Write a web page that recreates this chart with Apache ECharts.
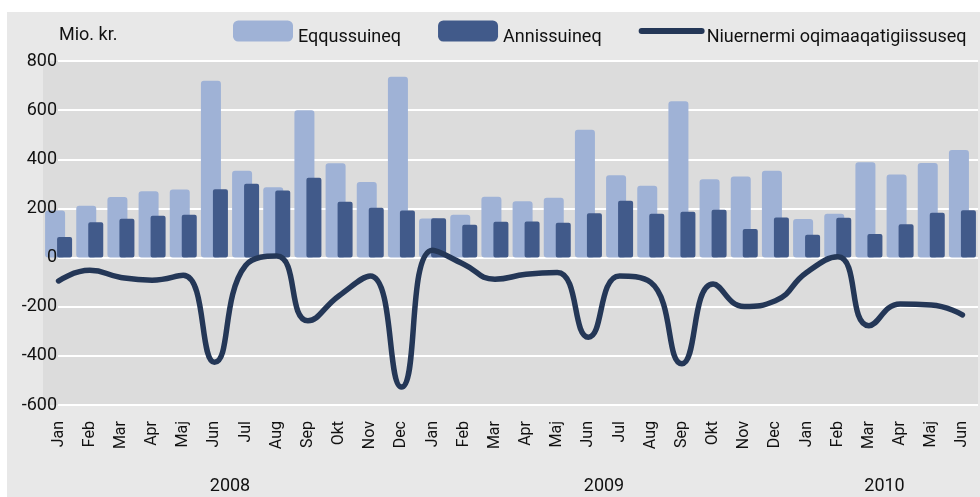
<!DOCTYPE html>
<html><head><meta charset="utf-8">
<script src="https://cdn.jsdelivr.net/npm/echarts@6/dist/echarts.min.js"></script>
<style>html,body{margin:0;padding:0;background:#fff}#c{width:980px;height:497px}</style>
</head><body><div id="c"></div>
<script>
// ---- data ----
const months = ['Jan','Feb','Mar','Apr','Maj','Jun','Jul','Aug','Sep','Okt','Nov','Dec',
                'Jan','Feb','Mar','Apr','Maj','Jun','Jul','Aug','Sep','Okt','Nov','Dec',
                'Jan','Feb','Mar','Apr','Maj','Jun'];
const years = ['2008','2009','2010'];
const monthsPerYear = [12, 12, 6];
const seriesNames = ['Eqqussuineq', 'Annissuineq', 'Niuernermi oqimaaqatigiissuseq'];
const importsVals = [192, 211, 247, 270, 277, 720, 353, 286, 600, 384, 308, 736,
                     159, 174, 248, 229, 243, 520, 335, 292, 636, 319, 330, 353,
                     157, 178, 388, 338, 385, 438];
const exportsVals = [84, 144, 158, 170, 174, 278, 300, 273, 325, 227, 203, 192,
                     160, 134, 146, 147, 142, 180, 231, 178, 186, 195, 116, 163,
                     93, 162, 96, 136, 182, 193];
const balanceVals = [-95, -52, -81, -92, -72, -426, -32, 6, -257, -155, -75, -527,
                     30, -27, -88, -68, -61, -324, -75, -101, -432, -108, -199, -176,
                     -61, 3, -277, -189, -193, -233];
const yMin = -600, yMax = 800, yStep = 200;
const unitLabel = 'Mio. kr.';

// year label positions (centre of each year's months on a 0..N value scale)
const yearCenters = [];
(function(){ let s = 0; monthsPerYear.forEach(n => { yearCenters.push(s + n / 2); s += n; }); })();
function yearFor(v){ const i = yearCenters.findIndex(c => Math.abs(c - v) < 1e-6); return i >= 0 ? years[i] : ''; }

const FONT = 'Roboto';
const TXT = '#111111';
const chart = echarts.init(document.getElementById('c'), null, {renderer: 'canvas'});
const option = {
  backgroundColor: '#ffffff',
  animation: false,
  textStyle: {fontFamily: FONT},
  graphic: [
    {type: 'rect', left: 7, top: 12, shape: {width: 973, height: 485}, style: {fill: '#e8e8e8'}, z: -10, silent: true},
    {type: 'rect', left: 43, top: 61, shape: {width: 935, height: 344}, style: {fill: '#dcdcdc'}, z: -9, silent: true}
  ],
  title: {text: unitLabel, left: 59, top: 26, padding: 0,
          textStyle: {fontSize: 18, fontWeight: 'normal', color: TXT, fontFamily: FONT}},
  legend: {left: 233, top: 16, padding: 0, itemWidth: 60, itemHeight: 21, itemGap: 37,
           formatter: name => '\n' + name,
           textStyle: {fontSize: 18, color: TXT, fontFamily: FONT, lineHeight: 12},
           lineStyle: {width: 6, cap: 'round'},
           data: [seriesNames[0], seriesNames[1], {name: seriesNames[2], itemStyle: {opacity: 0}}]},
  grid: [
    {left: 43, right: 2, top: 61, bottom: 92},
    {left: 58, right: 2, top: 61, bottom: 92}
  ],
  xAxis: [
    {type: 'category', gridIndex: 0, data: months, position: 'bottom',
     axisLine: {show: false, onZero: false}, axisTick: {show: false}, splitLine: {show: false},
     axisLabel: {rotate: 90, margin: 16, fontSize: 16, color: TXT, interval: 0}},
    {type: 'value', gridIndex: 0, min: 0, max: months.length, position: 'bottom', offset: 64,
     axisLine: {show: false, onZero: false}, axisTick: {show: false}, splitLine: {show: false},
     axisLabel: {customValues: yearCenters, formatter: v => yearFor(v), fontSize: 18, color: TXT, margin: 8}},
    {type: 'category', gridIndex: 1, data: months, show: false,
     axisLine: {onZero: false}}
  ],
  yAxis: [
    {type: 'value', gridIndex: 0, min: yMin, max: yMax, interval: yStep, show: false, splitLine: {show: false}},
    {type: 'value', gridIndex: 1, min: yMin, max: yMax, interval: yStep,
     axisLine: {show: false}, axisTick: {show: false}, axisLabel: {show: false},
     splitLine: {lineStyle: {color: '#ffffff', width: 2}}},
    {type: 'value', gridIndex: 1, position: 'left', offset: 0, z: 10,
     min: yMin, max: yMax, interval: yStep,
     axisLine: {show: false}, axisTick: {show: false}, splitLine: {show: false},
     axisLabel: {fontSize: 18, color: TXT, margin: 1}}
  ],
  series: [
    {name: seriesNames[0], type: 'bar', xAxisIndex: 0, yAxisIndex: 0, data: importsVals,
     barWidth: 20, barGap: '-40%', itemStyle: {color: '#9fb2d6', borderRadius: 3}},
    {name: seriesNames[1], type: 'bar', xAxisIndex: 0, yAxisIndex: 0, data: exportsVals,
     barWidth: 15, barGap: '-40%', itemStyle: {color: '#415a8a', borderRadius: 2}},
    {name: seriesNames[2], type: 'line', xAxisIndex: 0, yAxisIndex: 0, data: balanceVals,
     smooth: true, symbol: 'none', z: 5,
     lineStyle: {width: 5.5, color: '#243757', cap: 'round', join: 'round'}, itemStyle: {color: '#243757'}}
  ]
};
chart.setOption(option);
</script></body></html>
